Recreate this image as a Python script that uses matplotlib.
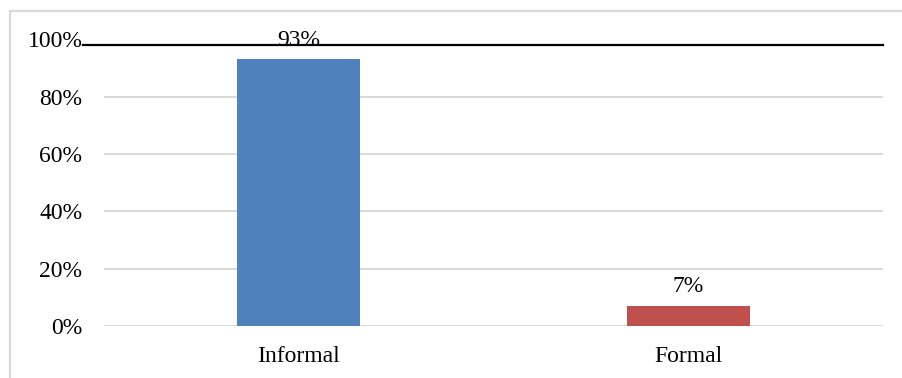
import matplotlib
matplotlib.use("Agg")
import matplotlib.pyplot as plt
from matplotlib.lines import Line2D
from matplotlib.ticker import PercentFormatter
import matplotlib.transforms as mtransforms

categories = ["Informal", "Formal"]
shares = [0.93, 0.07]
bar_colors = ["#4F81BD", "#C0504D"]
y_ticks = [0.0, 0.2, 0.4, 0.6, 0.8, 1.0]
rule_level = 0.98

plt.rcParams["font.family"] = ["Liberation Serif", "DejaVu Serif"]

W, H = 902, 378
fig = plt.figure(figsize=(W / 100, H / 100), dpi=100)
fig.patch.set_facecolor("white")

# outer chart frame (light grey), left and top edges
fx, fy = 10 / W, 1 - 10.5 / H
fig.add_artist(Line2D([fx, 1.0], [fy, fy], transform=fig.transFigure,
                      color="#D9D9D9", linewidth=1.6))
fig.add_artist(Line2D([fx, fx], [0.0, fy], transform=fig.transFigure,
                      color="#D9D9D9", linewidth=1.6))

ax = fig.add_axes([104 / W, 52 / H, 779 / W, (338.6 - 52) / H])
x = list(range(len(categories)))
bars = ax.bar(x, shares, width=0.316, color=bar_colors, zorder=3)

ax.set_xlim(-0.5, len(categories) - 0.5)
ax.set_ylim(0, 1.0)
ax.set_yticks(y_ticks)
ax.yaxis.set_major_formatter(PercentFormatter(1.0, decimals=0))
ax.set_xticks(x)
ax.set_xticklabels(categories)

for s in ax.spines.values():
    s.set_visible(False)
ax.tick_params(axis="both", length=0, labelsize=17)
ax.tick_params(axis="y", pad=15.5)
ax.tick_params(axis="x", pad=14.5)

# horizontal gridlines (the top one is replaced by the black rule)
for t in y_ticks[:-1]:
    ax.axhline(t, color="#D9D9D9", linewidth=1.4, zorder=1)

for b, v in zip(bars, shares):
    ax.annotate(f"{round(v * 100):.0f}%", (b.get_x() + b.get_width() / 2, v),
                xytext=(0, 14), textcoords="offset points",
                ha="center", va="center", fontsize=17, zorder=4)

# black rule across the top of the plot
trans = mtransforms.blended_transform_factory(ax.transAxes, ax.transData)
ax.plot([-0.027, 1.0], [rule_level, rule_level], color="black",
        linewidth=1.6, transform=trans, clip_on=False, zorder=5)

fig.savefig("out.png", dpi=100, facecolor="white")
